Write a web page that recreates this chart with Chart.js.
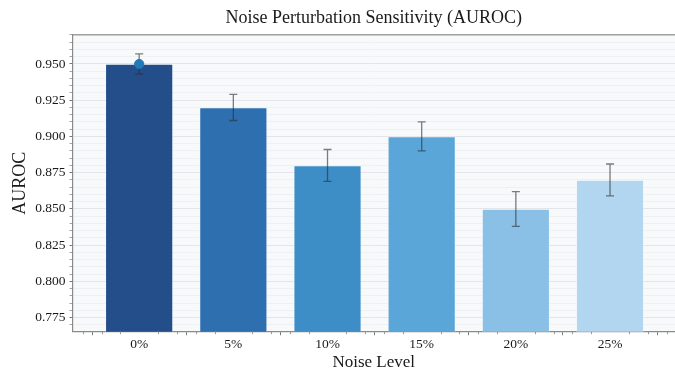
<!DOCTYPE html>
<html>
<head>
<meta charset="utf-8">
<script src="https://cdn.jsdelivr.net/npm/chart.js@4.4.1/dist/chart.umd.min.js"></script>
<style>
  html, body { margin: 0; padding: 0; background: #ffffff; }
  #wrap { width: 675px; height: 368px; position: relative; }
</style>
</head>
<body>
<div id="wrap"><canvas id="chart" width="675" height="368"></canvas></div>
<script>
// Noise levels and mean AUROC with spread
const noiseLevels = ['0%', '5%', '10%', '15%', '20%', '25%'];
const aurocMean   = [0.950, 0.920, 0.880, 0.900, 0.850, 0.870];
const aurocErr    = [0.007, 0.009, 0.011, 0.010, 0.012, 0.011];
const barColors   = ['#234e8a', '#2e6fb0', '#3d8ec7', '#5ba6d8', '#8ac0e6', '#b2d6ef'];
const yMajorTicks = [0.775, 0.800, 0.825, 0.850, 0.875, 0.900, 0.925, 0.950];
const yMinorStep  = 0.005;
const xMinorStep  = 0.2;

const SERIF = '"Liberation Serif", "Times New Roman", serif';
const X_MIN = -0.708, X_MAX = 5.69;

const tickVal = ctx => (ctx && ctx.tick) ? ctx.tick.value : NaN;
const isMajorY = v => yMajorTicks.some(m => Math.abs(m - v) < 1e-6);

// Light panel behind the plot
const panelBg = {
  id: 'panelBg',
  beforeDraw(chart) {
    const { ctx, chartArea: a } = chart;
    ctx.save();
    ctx.fillStyle = '#f8f9fb';
    ctx.fillRect(a.left, a.top, a.right - a.left, a.bottom - a.top);
    ctx.restore();
  }
};

// Short minor tick marks under the x axis
const xMinorTicks = {
  id: 'xMinorTicks',
  afterDraw(chart) {
    const { ctx, chartArea: a } = chart;
    const x = chart.scales.x;
    ctx.save();
    ctx.strokeStyle = '#9a9a9a';
    ctx.lineWidth = 1;
    for (let k = -3; k * xMinorStep <= x.max; k++) {
      if (k % 5 === 0) continue;
      const v = k * xMinorStep;
      if (v < x.min) continue;
      const px = Math.round(x.getPixelForValue(v)) + 0.5;
      ctx.beginPath();
      ctx.moveTo(px, a.bottom);
      ctx.lineTo(px, a.bottom + 2.5);
      ctx.stroke();
    }
    ctx.restore();
  }
};

// Error bars for the bar dataset, drawn before the mean marker
const errorBars = {
  id: 'errorBars',
  afterDatasetDraw(chart, args) {
    if (args.index !== 0) return;
    const { ctx } = chart;
    const y = chart.scales.y;
    const meta = chart.getDatasetMeta(0);
    ctx.save();
    ctx.strokeStyle = 'rgba(45,45,50,0.62)';
    ctx.lineWidth = 1.3;
    meta.data.forEach((bar, i) => {
      const x = bar.x;
      const yt = y.getPixelForValue(aurocMean[i] + aurocErr[i]);
      const yb = y.getPixelForValue(aurocMean[i] - aurocErr[i]);
      const cap = 4;
      ctx.beginPath();
      ctx.moveTo(x, yt); ctx.lineTo(x, yb);
      ctx.moveTo(x - cap, yt); ctx.lineTo(x + cap, yt);
      ctx.moveTo(x - cap, yb); ctx.lineTo(x + cap, yb);
      ctx.stroke();
    });
    ctx.restore();
  }
};

new Chart(document.getElementById('chart'), {
  data: {
    datasets: [
      {
        type: 'bar',
        data: aurocMean.map((v, i) => ({ x: i, y: v })),
        backgroundColor: barColors,
        borderColor: 'rgba(255,255,255,0.45)',
        borderWidth: 0.8,
        categoryPercentage: 1.0,
        barPercentage: 0.72,
        order: 1
      },
      {
        type: 'scatter',
        data: [{ x: 0, y: aurocMean[0] }],
        backgroundColor: '#2179b8',
        borderColor: '#2179b8',
        borderWidth: 1,
        pointRadius: 4.6,
        order: 0
      }
    ]
  },
  options: {
    responsive: false,
    animation: false,
    layout: { autoPadding: false, padding: 0 },
    plugins: { legend: { display: false }, tooltip: { enabled: false } },
    scales: {
      x: {
        type: 'linear',
        position: 'bottom',
        min: X_MIN,
        max: X_MAX,
        offset: false,
        afterBuildTicks(scale) {
          scale.ticks = noiseLevels.map((_, i) => ({ value: i }));
        },
        afterFit(scale) { scale.height = 36.3; },
        ticks: {
          autoSkip: false,
          maxRotation: 0,
          padding: 1,
          color: '#1a1a1a',
          font: { family: SERIF, size: 13.5 },
          callback: v => noiseLevels[Math.round(v)] ?? ''
        },
        grid: {
          drawOnChartArea: false,
          drawTicks: true,
          tickLength: 3.5,
          tickColor: '#777'
        },
        border: { display: true, color: '#8a8a8a', width: 1.2 },
        title: {
          display: true,
          text: 'Noise Level',
          color: '#1a1a1a',
          font: { family: SERIF, size: 17, lineHeight: 0.7 },
          padding: { top: 0, bottom: 0 }
        }
      },
      xTop: {
        type: 'linear',
        position: 'top',
        min: X_MIN,
        max: X_MAX,
        afterFit(scale) { scale.height = 34.7; },
        ticks: { display: false },
        grid: { display: false, drawOnChartArea: false, drawTicks: false },
        border: { display: true, color: '#a0a0a0', width: 1.4 },
        title: {
          display: true,
          text: 'Noise Perturbation Sensitivity (AUROC)',
          color: '#1a1a1a',
          font: { family: SERIF, size: 18 },
          padding: { top: 7.1, bottom: 0 }
        }
      },
      y: {
        type: 'linear',
        position: 'left',
        min: 0.7653,
        max: 0.9702,
        afterBuildTicks(scale) {
          const t = [];
          for (let v = 0.770; v <= 0.9701; v += yMinorStep) t.push({ value: Math.round(v * 1000) / 1000 });
          scale.ticks = t;
        },
        afterFit(scale) { scale.width = 72.5; },
        ticks: {
          autoSkip: false,
          padding: 4,
          color: '#1a1a1a',
          font: { family: SERIF, size: 13.5 },
          callback: v => isMajorY(v) ? v.toFixed(3) : ''
        },
        grid: {
          drawTicks: true,
          tickLength: 3,
          color: ctx => isMajorY(tickVal(ctx)) ? '#e3e5ea' : '#eff0f4',
          lineWidth: 1,
          tickColor: ctx => isMajorY(tickVal(ctx)) ? '#777' : '#a5a5a5'
        },
        border: { display: true, color: '#8a8a8a', width: 1.2 },
        title: {
          display: true,
          text: 'AUROC',
          color: '#1a1a1a',
          font: { family: SERIF, size: 18 },
          padding: { top: 9.3, bottom: 0 }
        }
      }
    }
  },
  plugins: [panelBg, errorBars, xMinorTicks]
});
</script>
</body>
</html>
